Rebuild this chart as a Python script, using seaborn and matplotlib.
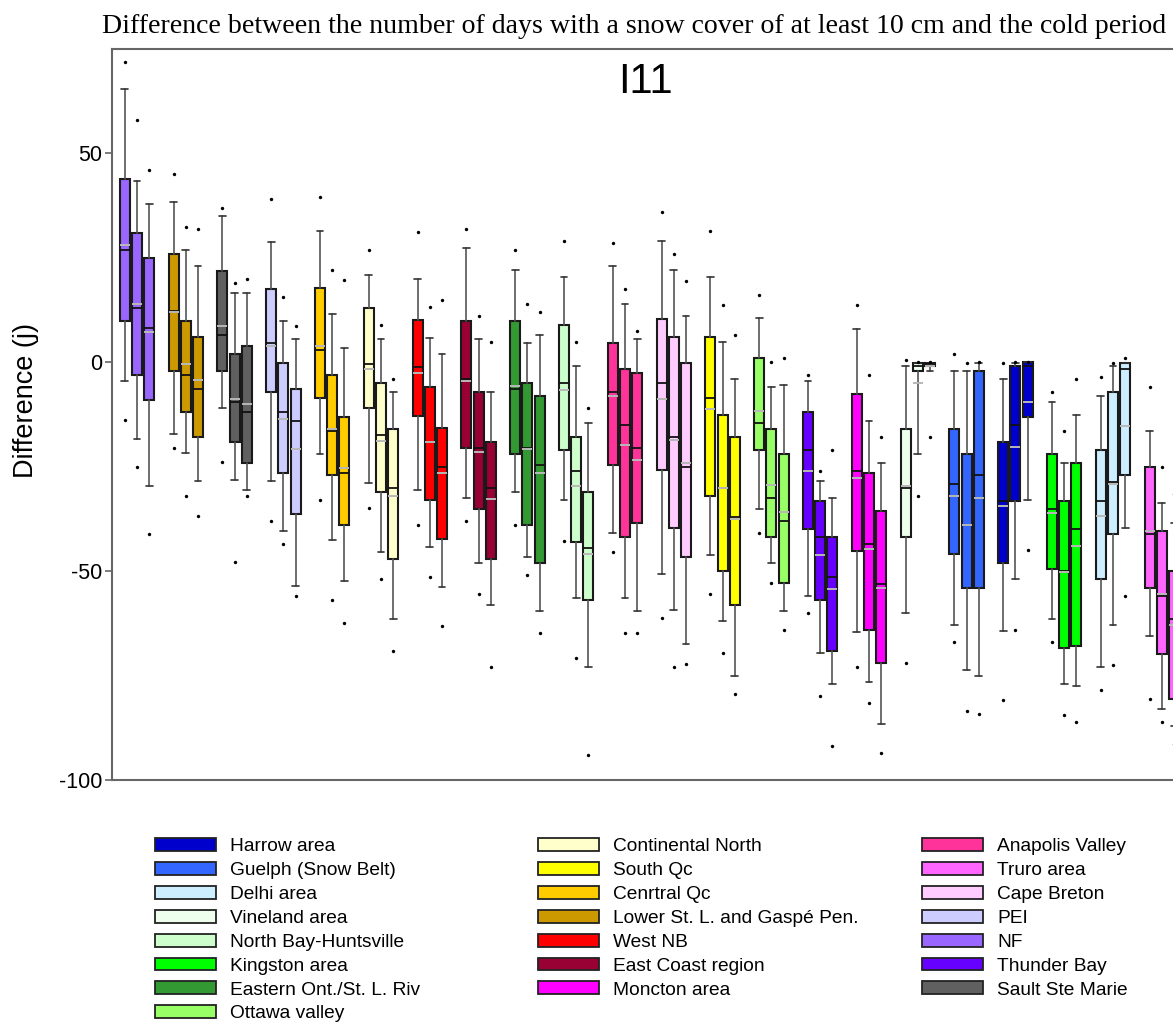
import matplotlib
matplotlib.use("Agg")
import numpy as np
import pandas as pd
import seaborn as sns
import matplotlib.pyplot as plt
from matplotlib.patches import Patch

sns.set_theme(style="white")
plt.rcParams['font.family'] = ['Liberation Sans', 'DejaVu Sans']
plt.rcParams['axes.unicode_minus'] = False
plt.rcParams['text.color'] = 'black'
plt.rcParams['ytick.color'] = 'black'
plt.rcParams['axes.labelcolor'] = 'black'

# ---------------- data (x order) ----------------
regions = ["NF", "Lower St. L. and Gaspé Pen.", "Sault Ste Marie", "PEI", "Cenrtral Qc",
           "Continental North", "West NB", "East Coast region", "Eastern Ont./St. L. Riv",
           "North Bay-Huntsville", "Anapolis Valley", "Cape Breton", "South Qc", "Ottawa valley",
           "Thunder Bay", "Moncton area", "Vineland area", "Guelph (Snow Belt)", "Harrow area",
           "Kingston area", "Delhi area", "Truro area"]
colors = ["#9966FF", "#CC9900", "#606060", "#CCCCFF", "#FFCC00",
          "#FFFFCC", "#FF0000", "#990033", "#339933",
          "#CCFFCC", "#FF3399", "#FFCCFF", "#FFFF00", "#99FF66",
          "#6600FF", "#FF00FF", "#EEFFEE", "#3366FF", "#0000CC",
          "#00FF00", "#CCEEFF", "#FF66FF"]

whislo = [[-4.5, -18.4, -29.5], [-17.1, -21.6, -28.5], [-11.0, -28.1, -30.6], [-28.5, -40.5, -53.5],
          [-21.9, -42.5, -52.4], [-29.0, -45.5, -61.5], [-30.6, -44.3, -53.7], [-32.5, -48.0, -58.0],
          [-31.0, -46.5, -59.5], [-33.0, -56.4, -73.0], [-40.9, -56.4, -59.5], [-50.6, -59.3, -67.4],
          [-46.1, -62.0, -75.0], [-35.1, -48.0, -59.5], [-56.0, -69.5, -77.0], [-64.5, -76.5, -86.5],
          [-60.0, -22.0, -2.0], [-63.0, -73.7, -75.1], [-64.4, -52.0, -33.0], [-61.5, -77.0, -77.5],
          [-73.0, -63.0, -39.6], [-65.5, -83.0, -87.0]]
q1 = [[10.0, -2.95, -9.0], [-2.1, -12.0, -18.0], [-2.0, -19.1, -24.0], [-7.0, -26.5, -36.4],
      [-8.5, -27.0, -39.0], [-11.0, -31.0, -47.0], [-12.8, -33.0, -42.3], [-20.6, -35.1, -47.0],
      [-21.9, -39.0, -48.0], [-20.9, -43.0, -56.9], [-24.5, -41.9, -38.4], [-25.8, -39.6, -46.7],
      [-32.0, -49.9, -58.0], [-20.9, -41.9, -52.9], [-40.0, -56.9, -69.1], [-45.1, -64.1, -72.0],
      [-41.9, -2.0, -1.0], [-46.0, -54.0, -54.0], [-48.0, -33.1, -13.1], [-49.5, -68.5, -67.9],
      [-52.0, -41.0, -27.0], [-54.0, -69.9, -80.5]]
median = [[27.0, 12.9, 8.1], [12.3, -3.0, -6.5], [6.6, -9.6, -12.0], [4.5, -12.0, -14.0],
          [3.0, -16.5, -26.5], [-0.5, -17.5, -30.0], [-1.1, -19.0, -25.0], [-4.0, -20.6, -30.0],
          [-6.5, -20.5, -24.5], [-4.9, -26.1, -44.5], [-7.0, -15.1, -20.6], [-4.9, -18.0, -25.0],
          [-8.5, -30.0, -37.0], [-14.5, -32.5, -38.0], [-21.0, -41.9, -51.5], [-26.1, -43.5, -53.0],
          [-30.1, -1.0, -0.5], [-29.1, -39.0, -27.0], [-33.1, -15.1, -1.0], [-35.1, -49.9, -40.0],
          [-33.1, -28.6, -1.6], [-41.0, -56.0, -61.5]]
mean = [[28.1, 14.0, 7.2], [12.0, -0.5, -4.3], [8.7, -8.7, -9.9], [4.0, -13.5, -20.8],
        [3.8, -15.9, -25.3], [-1.7, -18.9, -32.1], [-2.6, -19.1, -26.4], [-4.5, -21.4, -32.8],
        [-5.7, -20.7, -26.4], [-6.6, -29.7, -45.8], [-8.1, -19.7, -23.3], [-8.7, -18.7, -24.1],
        [-11.3, -30.1, -37.6], [-11.7, -29.3, -35.9], [-26.1, -46.2, -54.3], [-27.6, -44.6, -54.1],
        [-29.6, -5.0, -0.8], [-31.9, -38.9, -32.6], [-34.5, -20.2, -9.6], [-36.0, -50.3, -44.1],
        [-36.7, -29.1, -15.2], [-40.4, -55.5, -62.8]]
q3 = [[43.9, 31.0, 25.0], [25.9, 9.9, 6.1], [21.9, 2.0, 4.0], [17.5, -0.1, -6.5],
      [17.9, -3.0, -13.1], [13.1, -5.0, -16.0], [10.2, -5.9, -15.8], [10.0, -7.0, -19.1],
      [9.9, -5.0, -8.1], [8.9, -18.0, -31.0], [4.5, -1.6, -2.6], [10.4, 6.1, -0.1],
      [6.1, -12.7, -18.0], [1.0, -16.0, -21.9], [-12.0, -33.1, -41.9], [-7.5, -26.6, -35.6],
      [-16.0, -0.1, -0.1], [-16.0, -22.0, -2.1], [-19.1, -1.0, 0.0], [-22.0, -33.1, -24.1],
      [-21.0, -7.0, -0.1], [-25.0, -40.5, -50.0]]
whishi = [[65.5, 43.5, 38.0], [38.4, 27.0, 23.0], [35.0, 16.5, 16.5], [28.9, 9.9, 5.5],
          [31.4, 11.5, 3.4], [21.0, 5.5, -7.1], [19.9, 5.7, 1.9], [27.4, 5.5, -7.0],
          [22.0, 4.5, 6.5], [20.5, -1.0, -14.5], [23.0, 14.0, 5.5], [29.1, 22.2, 11.2],
          [20.5, 4.9, -4.0], [10.5, -6.0, -5.5], [-4.5, -28.5, -32.5], [8.0, -14.0, -24.1],
          [-1.0, -0.1, -0.1], [-2.1, -2.1, -0.1], [-4.0, -0.1, 0.0], [-9.6, -24.1, -12.7],
          [-8.1, -1.0, -0.1], [-16.4, -33.6, -38.4]]
minimum = [[-13.9, -25.0, -41.0], [-20.5, -31.9, -36.9], [-23.9, -47.9, -31.9], [-38.0, -43.5, -56.0],
           [-32.9, -56.9, -62.5], [-35.0, -51.8, -69.0], [-38.9, -51.5, -63.2], [-38.0, -55.4, -73.0],
           [-39.0, -50.9, -64.9], [-42.9, -70.9, -93.9], [-45.5, -64.9, -64.9], [-61.1, -72.9, -72.2],
           [-55.4, -69.5, -79.4], [-40.9, -52.9, -64.0], [-60.0, -80.0, -91.9], [-73.0, -81.5, -93.5],
           [-71.9, -32.0, -17.9], [-67.0, -83.6, -84.1], [-80.9, -64.0, -45.0], [-67.0, -84.5, -86.0],
           [-78.5, -72.5, -56.0], [-80.5, -86.0, -91.5]]
maximum = [[72.0, 58.1, 46.0], [45.0, 32.5, 32.0], [37.0, 19.1, 20.0], [39.0, 15.6, 8.6],
           [39.6, 22.1, 19.6], [27.0, 9.0, -4.0], [31.1, 13.3, 15.0], [32.0, 11.1, 4.9],
           [27.0, 14.0, 12.0], [29.0, 4.9, -11.0], [28.5, 17.5, 7.4], [35.9, 26.0, 19.4],
           [31.5, 13.6, 6.6], [16.0, 0.0, 1.0], [-3.0, -26.0, -21.0], [13.6, -3.0, -17.9],
           [0.6, 0.0, 0.0], [2.0, -0.2, 0.0], [-0.1, 0.0, 0.0], [-7.0, -16.5, -4.0],
           [-3.5, -0.1, 1.0], [-6.0, -25.0, -31.5]]

legend_cols = [["Harrow area", "Guelph (Snow Belt)", "Delhi area", "Vineland area",
                "North Bay-Huntsville", "Kingston area", "Eastern Ont./St. L. Riv", "Ottawa valley"],
               ["Continental North", "South Qc", "Cenrtral Qc", "Lower St. L. and Gaspé Pen.",
                "West NB", "East Coast region", "Moncton area"],
               ["Anapolis Valley", "Truro area", "Cape Breton", "PEI", "NF", "Thunder Bay",
                "Sault Ste Marie"]]

title = "Difference between the number of days with a snow cover of at least 10 cm and the cold period"
panel = "I11"
ylabel = "Difference (j)"
yticks = [-100, -50, 0, 50]

# ---------------- figure ----------------
W, H = 1173, 1022
fig = plt.figure(figsize=(W / 100, H / 100), dpi=100)
ax = fig.add_axes([112 / W, 1 - 780 / H, (1186.7 - 112) / W, (780 - 49) / H])

offsets = [-0.25, 0.0, 0.25]
stats, positions, facec = [], [], []
flier_x, flier_y = [], []
for i in range(len(regions)):
    for j in range(3):
        stats.append(dict(med=median[i][j], q1=q1[i][j], q3=q3[i][j],
                          whislo=whislo[i][j], whishi=whishi[i][j], mean=mean[i][j],
                          fliers=[]))
        positions.append(i + offsets[j])
        facec.append(colors[i])
        flier_x += [i + offsets[j]] * 2
        flier_y += [minimum[i][j], maximum[i][j]]

bp = ax.bxp(stats, positions=positions, widths=0.205, capwidths=0.14,
            patch_artist=True, showmeans=True, meanline=True, showfliers=False,
            boxprops=dict(edgecolor="#1a1a1a", linewidth=1.5),
            medianprops=dict(color="#111111", linewidth=1.3),
            meanprops=dict(color="#b8b8b8", linewidth=1.4, linestyle="-"),
            whiskerprops=dict(color="#555555", linewidth=1.2),
            capprops=dict(color="#333333", linewidth=1.2),
            manage_ticks=False, zorder=2)
for patch, c in zip(bp["boxes"], facec):
    patch.set_facecolor(c)

fl = pd.DataFrame({"x": flier_x, "y": flier_y})
sns.scatterplot(data=fl, x="x", y="y", color="black", s=6, linewidth=0, ax=ax, zorder=3)

ax.set_xlim(-0.512, 21.51)
ax.set_ylim(-100, 75)
ax.set_xticks([])
ax.set_yticks(yticks)
ax.set_yticklabels([str(t) for t in yticks], fontsize=15.5, color="black")
ax.tick_params(axis="y", which="both", left=True, length=5, width=1.2, color="#666666", pad=2)
ax.set_xlabel("")
ax.set_ylabel("")
for s in ["left", "top", "bottom", "right"]:
    ax.spines[s].set_color("#666666")
    ax.spines[s].set_linewidth(1.5)
ax.grid(False)

fig.text(634 / W, 1 - 33 / H, title, ha="center", va="baseline", color="black",
         family=["Liberation Serif", "DejaVu Serif"], fontsize=20.1)
fig.text(645 / W, 1 - 93 / H, panel, ha="center", va="baseline", fontsize=30, color="black")
fig.text(26 / W, 1 - 400 / H, ylabel, ha="center", va="center", rotation=90,
         fontsize=19.5, color="black")

# ---------------- legends (three fixed-position columns) ----------------
color_of = dict(zip(regions, colors))
col_x = [155, 538, 922]
FS = 13.8
fs_px = FS * 100 / 72
target_first = 844.7   # pixel centre of first patch (from top)
target_step = 23.86    # pixel distance between rows


def make_leg(k, spacing, top_px):
    labels = legend_cols[k]
    handles = [Patch(facecolor=color_of[l], edgecolor="#222222", linewidth=1.3) for l in labels]
    return fig.legend(handles, labels, loc="upper left",
                      bbox_to_anchor=(col_x[k] / W, 1 - top_px / H),
                      frameon=False, fontsize=FS, ncol=1, borderpad=0, borderaxespad=0,
                      handlelength=3.18, handleheight=0.66, handletextpad=0.73,
                      labelspacing=spacing, labelcolor="black")


spacing, top_px = 0.25, 833.0
leg = make_leg(0, spacing, top_px)
for _ in range(3):
    fig.canvas.draw()
    r = fig.canvas.get_renderer()
    hs = leg.legend_handles
    b0 = hs[0].get_window_extent(r)
    b1 = hs[-1].get_window_extent(r)
    c0 = H - (b0.y0 + b0.y1) / 2
    c1 = H - (b1.y0 + b1.y1) / 2
    step = (c1 - c0) / (len(hs) - 1)
    spacing += (target_step - step) / fs_px
    top_px += target_first - c0
    leg.remove()
    leg = make_leg(0, spacing, top_px)

make_leg(1, spacing, top_px)
make_leg(2, spacing, top_px)

fig.savefig("out.png", dpi=100)
